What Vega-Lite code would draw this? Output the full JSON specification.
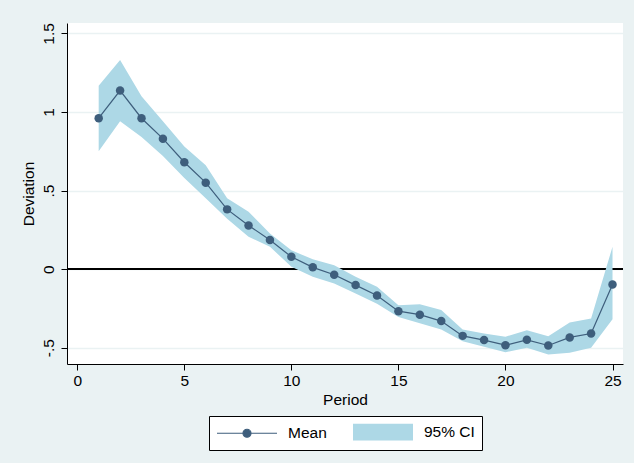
{
  "$schema": "https://vega.github.io/schema/vega-lite/v6.json",
  "width": 556,
  "height": 341,
  "autosize": {"type": "none"},
  "padding": {"left": 67, "top": 23, "right": 11, "bottom": 99},
  "background": "#EAF2F3",
  "config": {
    "font": "Liberation Sans",
    "view": {"fill": "white", "stroke": null},
    "axis": {
      "domainColor": "black", "domainWidth": 1, "tickColor": "black", "tickWidth": 1, "tickSize": 6,
      "labelFontSize": 15.5, "labelColor": "black", "titleFontSize": 15.5, "titleFontWeight": "normal", "titleColor": "black"
    }
  },
  "data": {"values": [
    {"period": 1, "mean": 0.96, "lo": 0.75, "hi": 1.166},
    {"period": 2, "mean": 1.136, "lo": 0.94, "hi": 1.33},
    {"period": 3, "mean": 0.96, "lo": 0.84, "hi": 1.10},
    {"period": 4, "mean": 0.83, "lo": 0.72, "hi": 0.94},
    {"period": 5, "mean": 0.68, "lo": 0.58, "hi": 0.78},
    {"period": 6, "mean": 0.55, "lo": 0.45, "hi": 0.66},
    {"period": 7, "mean": 0.38, "lo": 0.32, "hi": 0.45},
    {"period": 8, "mean": 0.278, "lo": 0.206, "hi": 0.365},
    {"period": 9, "mean": 0.185, "lo": 0.142, "hi": 0.227},
    {"period": 10, "mean": 0.078, "lo": 0.015, "hi": 0.12},
    {"period": 11, "mean": 0.011, "lo": -0.049, "hi": 0.062},
    {"period": 12, "mean": -0.036, "lo": -0.091, "hi": 0.025},
    {"period": 13, "mean": -0.102, "lo": -0.155, "hi": -0.049},
    {"period": 14, "mean": -0.168, "lo": -0.22, "hi": -0.113},
    {"period": 15, "mean": -0.268, "lo": -0.305, "hi": -0.23},
    {"period": 16, "mean": -0.29, "lo": -0.345, "hi": -0.223},
    {"period": 17, "mean": -0.331, "lo": -0.385, "hi": -0.26},
    {"period": 18, "mean": -0.425, "lo": -0.46, "hi": -0.384},
    {"period": 19, "mean": -0.452, "lo": -0.495, "hi": -0.41},
    {"period": 20, "mean": -0.484, "lo": -0.53, "hi": -0.43},
    {"period": 21, "mean": -0.45, "lo": -0.5, "hi": -0.39},
    {"period": 22, "mean": -0.486, "lo": -0.543, "hi": -0.427},
    {"period": 23, "mean": -0.435, "lo": -0.533, "hi": -0.34},
    {"period": 24, "mean": -0.41, "lo": -0.5, "hi": -0.314},
    {"period": 25, "mean": -0.098, "lo": -0.32, "hi": 0.142}
  ]},
  "encoding": {
    "x": {"field": "period", "type": "quantitative",
      "scale": {"domain": [-0.48, 25.49], "nice": false, "zero": false},
      "axis": {"values": [0, 5, 10, 15, 20, 25], "title": "Period", "grid": false, "labelPadding": 3, "titlePadding": 4, "labelFlush": false}
    }
  },
  "layer": [
    {
      "mark": {"type": "rule", "color": "black", "strokeWidth": 1.3},
      "encoding": {"y": {"datum": 0, "type": "quantitative"}, "x": null}
    },
    {
      "mark": {"type": "area", "opacity": 1},
      "encoding": {
        "y": {"field": "hi", "type": "quantitative",
          "scale": {"domain": [-0.604, 1.566], "nice": false, "zero": false},
          "axis": {"values": [-0.5, 0, 0.5, 1, 1.5], "title": "Deviation", "labelAngle": -90, "labelAlign": "center", "labelBaseline": "bottom", "labelPadding": 5, "titlePadding": 5,
            "labelExpr": "replace(toString(datum.value), '0.', '.')", "grid": true, "gridColor": "#EAF2F3", "gridWidth": 1.5, "labelFlush": false}
        },
        "y2": {"field": "lo"},
        "fill": {"datum": "95% CI", "type": "nominal",
          "scale": {"domain": ["Mean", "95% CI"], "range": ["#3E5E7C", "#ADD8E6"]},
          "legend": {
            "title": null, "orient": "none", "direction": "horizontal", "legendX": 142, "legendY": 393,
            "strokeColor": "black", "fillColor": "white", "padding": 7, "cornerRadius": 0,
            "symbolSize": 256, "labelOffset": 54, "columnPadding": 23, "labelFontSize": 15.5, "labelColor": "black", "labelFont": "Liberation Sans", "symbolOpacity": 1,
            "encode": {"symbols": {"update": {
              "shape": {"signal": "datum.value === 'Mean' ? 'M-1,0H6.5M3.25,0A0.5,0.5 0 1 1 2.25,0A0.5,0.5 0 1 1 3.25,0' : 'M-1,-1.04H6.5V1.04H-1Z'"},
              "stroke": {"signal": "datum.value === 'Mean' ? '#3E5E7C' : 'transparent'"},
              "strokeWidth": {"value": 1.2}
            }}}
          }
        }
      }
    },
    {
      "mark": {"type": "line", "color": "#3E5E7C", "strokeWidth": 1.2},
      "encoding": {"y": {"field": "mean", "type": "quantitative"}}
    },
    {
      "mark": {"type": "point", "filled": true, "opacity": 1, "color": "#3E5E7C", "size": 72},
      "encoding": {"y": {"field": "mean", "type": "quantitative"}}
    }
  ]
}
